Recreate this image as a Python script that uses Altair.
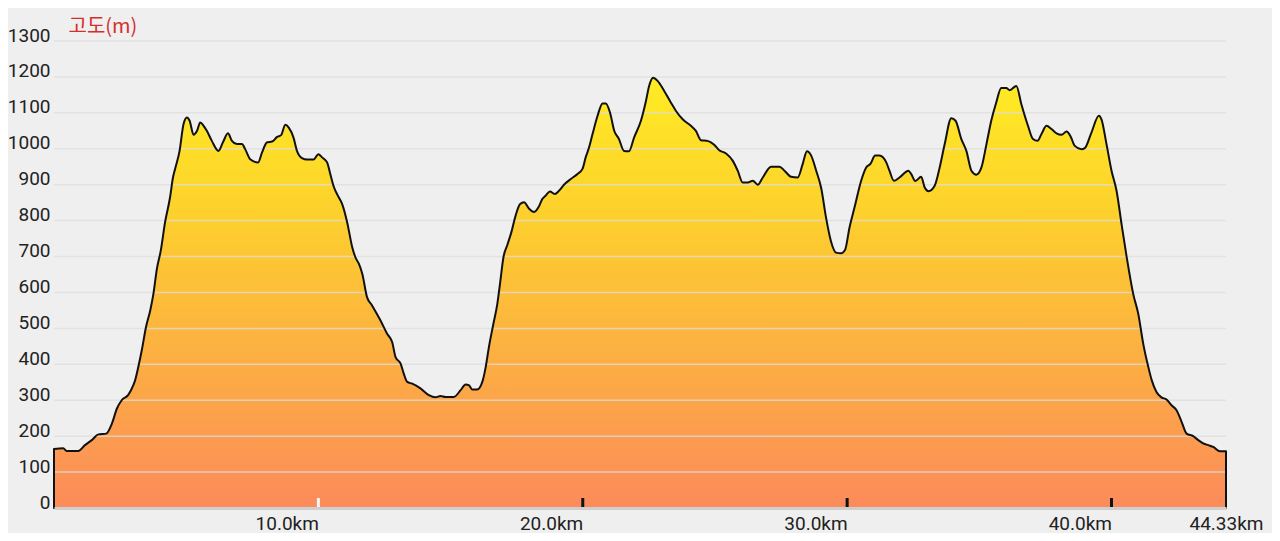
import altair as alt
import pandas as pd

dist_km = [0.00, 0.35, 0.48, 0.92, 1.17, 1.43, 1.68, 1.97, 2.19, 2.38, 2.56, 2.81, 3.00, 3.07,
           3.19, 3.32, 3.48, 3.64, 3.76, 3.89, 4.04, 4.20, 4.39, 4.50, 4.58, 4.75, 4.90, 5.03,
           5.13, 5.28, 5.41, 5.53, 5.66, 5.78, 5.97, 6.22, 6.39, 6.58, 6.73, 6.92, 7.11, 7.23,
           7.42, 7.72, 7.87, 8.06, 8.25, 8.44, 8.59, 8.75, 8.88, 9.06, 9.19, 9.38, 9.57, 9.82,
           10.00, 10.14, 10.33, 10.45, 10.58, 10.77, 10.90, 11.09, 11.28, 11.40, 11.53, 11.66,
           11.84, 12.03, 12.35, 12.60, 12.79, 12.92, 13.11, 13.23, 13.36, 13.55, 13.86, 14.18,
           14.43, 14.62, 14.81, 15.12, 15.38, 15.57, 15.69, 15.82, 16.01, 16.20, 16.33, 16.45,
           16.62, 16.77, 16.87, 17.00, 17.15, 17.30, 17.46, 17.63, 17.78, 17.97, 18.16, 18.34,
           18.47, 18.60, 18.76, 18.94, 19.10, 19.29, 19.55, 19.80, 19.99, 20.11, 20.24, 20.37,
           20.56, 20.75, 20.87, 21.03, 21.19, 21.37, 21.56, 21.75, 21.94, 22.20, 22.39, 22.51,
           22.66, 22.83, 23.08, 23.33, 23.52, 23.78, 24.09, 24.28, 24.47, 24.72, 24.97, 25.16,
           25.42, 25.67, 25.86, 26.05, 26.24, 26.43, 26.62, 26.81, 27.12, 27.44, 27.63, 27.88,
           28.13, 28.32, 28.48, 28.64, 28.83, 29.02, 29.20, 29.39, 29.58, 29.77, 29.92, 30.09,
           30.28, 30.53, 30.72, 30.88, 31.06, 31.22, 31.48, 31.60, 31.77, 31.98, 32.32, 32.42,
           32.58, 32.80, 32.93, 33.08, 33.31, 33.50, 33.69, 33.94, 34.10, 34.32, 34.51, 34.70,
           34.89, 35.08, 35.27, 35.45, 35.64, 35.83, 36.02, 36.15, 36.40, 36.59, 36.84, 37.03,
           37.20, 37.35, 37.54, 37.73, 37.92, 38.11, 38.30, 38.46, 38.61, 38.86, 38.99, 39.24,
           39.52, 39.62, 39.81, 40.00, 40.19, 40.38, 40.57, 40.82, 41.01, 41.20, 41.39, 41.52,
           41.70, 41.89, 42.08, 42.27, 42.46, 42.65, 42.84, 43.09, 43.28, 43.47, 43.66, 43.85,
           44.10, 44.33]
elev_m = [164, 166, 159, 159, 175, 189, 205, 207, 235, 277, 300, 315, 342, 356,
          393, 439, 504, 550, 596, 665, 717, 795, 865, 920, 944, 994, 1069, 1087,
          1078, 1039, 1050, 1073, 1064, 1050, 1022, 994, 1018, 1043, 1022, 1013, 1013, 999,
          971, 962, 990, 1018, 1020, 1033, 1038, 1067, 1059, 1031, 994, 974, 970, 970,
          985, 976, 962, 930, 895, 865, 846, 795, 726, 698, 680, 652,
          587, 564, 522, 485, 462, 420, 402, 374, 351, 346, 333, 314,
          308, 312, 309, 309, 328, 344, 342, 330, 330, 351, 393, 448,
          513, 569, 624, 698, 733, 768, 814, 846, 851, 833, 824, 839,
          860, 870, 881, 874, 883, 900, 916, 930, 944, 976, 1004, 1041,
          1092, 1126, 1126, 1101, 1050, 1027, 994, 993, 1031, 1078, 1133, 1175,
          1198, 1189, 1161, 1129, 1106, 1082, 1064, 1050, 1024, 1022, 1011, 996,
          987, 967, 939, 906, 906, 911, 900, 920, 950, 950, 939, 922,
          920, 958, 993, 981, 939, 890, 809, 742, 711, 709, 718, 781,
          837, 911, 948, 958, 981, 981, 962, 939, 911, 920, 939, 930,
          910, 922, 893, 882, 897, 948, 1013, 1085, 1078, 1027, 994, 939,
          928, 948, 1013, 1078, 1129, 1169, 1169, 1163, 1175, 1124, 1064, 1027,
          1022, 1041, 1064, 1055, 1043, 1039, 1048, 1033, 1008, 999, 1002, 1045,
          1092, 1082, 1013, 939, 883, 790, 700, 596, 541, 457, 393, 356,
          323, 308, 302, 286, 272, 240, 207, 200, 189, 180, 175, 170,
          158, 158]

y_tick_values = [0, 100, 200, 300, 400, 500, 600, 700, 800, 900, 1000, 1100, 1200, 1300]
grid_values = [100, 200, 300, 400, 500, 600, 700, 800, 900, 1000, 1100, 1200, 1300]
x_label_values = [10, 20, 30, 40, 44.33]
x_tick_marks = [10, 20, 30, 40]
x_tick_colors = ["#f6f6f6", "#111111", "#111111", "#111111"]

df = pd.DataFrame({"km": dist_km, "elev": elev_m})
grid_df = pd.DataFrame({"elev": grid_values})
ticks_df = pd.DataFrame({"km": x_tick_marks, "c": x_tick_colors})

W, H = 1172, 467
x_scale = alt.Scale(domain=[0, 44.33], nice=False, zero=False)
y_scale = alt.Scale(domain=[0, 1300], nice=False)

grad = alt.Gradient(
    gradient="linear",
    stops=[
        alt.GradientStop(color="#ffec24", offset=0),
        alt.GradientStop(color="#fdd22c", offset=0.3),
        alt.GradientStop(color="#fcaf42", offset=0.65),
        alt.GradientStop(color="#fc8b5b", offset=1),
    ],
    x1=0, x2=0, y1=0, y2=1,
)

x_axis = alt.Axis(
    values=x_label_values,
    labelExpr="datum.value > 44 ? '44.33km' : format(datum.value, '.1f') + 'km'",
    grid=False, ticks=False, domain=True, domainColor="#cfcfcf", domainWidth=3,
    labelAlign={"condition": {"test": "datum.value > 44", "value": "center"}, "value": "right"},
    labelBaseline="alphabetic", labelPadding=21,
    labelFont="Roboto", labelFontSize=19, labelColor="#222222",
    labelFlush=False, labelOverlap=False, title=None, zindex=1,
)
y_axis = alt.Axis(
    values=y_tick_values, format="d", grid=False, ticks=False, domain=False,
    labelFont="Roboto", labelFontSize=19, labelColor="#222222",
    labelAlign="right", labelBaseline="alphabetic", labelPadding=4,
    labelFlush=False, labelOverlap=False,
    title="고도(m)", titleAngle=0, titleAlign="left", titleBaseline="middle",
    titleX=14, titleY=-15, titleFont="Noto Sans CJK KR", titleFontSize=20,
    titleFontWeight="normal", titleColor="#d32f2f",
)

fill = alt.Chart(df).mark_area(color=grad, interpolate="monotone").encode(
    x=alt.X("km:Q", scale=x_scale, axis=x_axis),
    y=alt.Y("elev:Q", scale=y_scale, axis=y_axis),
)

grid = alt.Chart(grid_df).mark_rule(color="#dedede", opacity=0.75, strokeWidth=1.5).encode(
    y=alt.Y("elev:Q", scale=y_scale, axis=y_axis),
)

outline = alt.Chart(df).mark_area(
    interpolate="monotone", fillOpacity=0, stroke="#111111", strokeWidth=2, strokeJoin="round"
).encode(
    x=alt.X("km:Q", scale=x_scale, axis=x_axis),
    y=alt.Y("elev:Q", scale=y_scale, axis=y_axis),
)

ticks = alt.Chart(ticks_df).mark_rule(strokeWidth=3).encode(
    x=alt.X("km:Q", scale=x_scale, axis=x_axis),
    y=alt.value(H - 10),
    y2=alt.value(H),
    color=alt.Color("c:N", scale=None),
)

chart = alt.layer(fill, grid, outline, ticks).properties(
    width=W, height=H,
    autosize=alt.AutoSizeParams(type="none"),
    padding={"left": 46, "top": 33, "right": 46, "bottom": 25},
    background="#efefef",
).configure_view(stroke=None)

chart.save("out.html", embed_options={"renderer": "svg", "actions": False})
